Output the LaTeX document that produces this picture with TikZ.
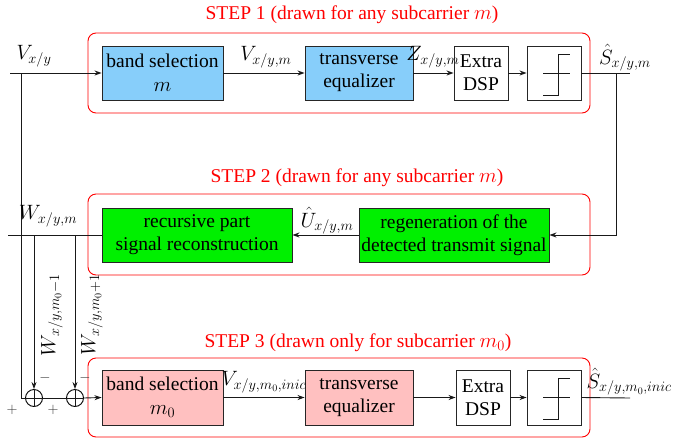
\documentclass[tikz,border=0pt]{standalone}
\usepackage{fontspec}
\setmainfont{Liberation Serif}
\usetikzlibrary{arrows.meta}
\definecolor{bluefill}{HTML}{87CEFA}
\definecolor{greenfill}{HTML}{00F000}
\definecolor{pinkfill}{HTML}{FFC0C0}
\tikzset{
  blk/.style={draw=black!85, line width=0.9pt, align=center, inner sep=0pt},
  redframe/.style={draw=red, line width=0.9pt, rounded corners=8pt},
  title/.style={text=red, inner sep=0pt},
  lab/.style={inner sep=0pt},
  sign/.style={inner sep=0pt, font=\fontsize{14}{16}\selectfont, text=black!80},
  conn/.style={line width=0.9pt, draw=black!90},
  arr/.style={conn, -{Stealth[length=7pt,width=5pt]}},
  adder/.style={draw=black, line width=0.9pt, circle, minimum size=17pt, inner sep=0pt},
}
\begin{document}
\begin{tikzpicture}[x=1pt,y=-1pt,font=\fontsize{19.5}{23}\selectfont]
\useasboundingbox (0,0) rectangle (673,440);
% frames
\draw[redframe] (88,33) rectangle (590,113);
\draw[redframe] (88,194) rectangle (590,275);
\draw[redframe] (88,358) rectangle (590,437);
\node[title] (t1) at (352,15) {STEP 1 (drawn for any subcarrier $m$)};
\node[title] (t2) at (357,178) {STEP 2 (drawn for any subcarrier $m$)};
\node[title] (t3) at (358,343) {STEP 3 (drawn only for subcarrier $m_0$)};
% step 1
\node[blk, fill=bluefill, minimum width=121pt, minimum height=54pt] (b1) at (162.5,73) {band selection\\[1pt] $m$};
\node[blk, fill=bluefill, minimum width=108pt, minimum height=54pt] (q1) at (359,73) {transverse\\ equalizer};
\node[blk, minimum width=54pt, minimum height=54pt] (e1) at (481,73) {Extra\\ DSP};
\node[blk, minimum width=54pt, minimum height=54pt] (d1) at (554,73) {};
% step 2
\node[blk, fill=greenfill, minimum width=190pt, minimum height=54pt] (r2) at (197,235) {recursive part\\ signal reconstruction};
\node[blk, fill=greenfill, minimum width=190pt, minimum height=54pt] (g2) at (454,235) {regeneration of the\\ detected transmit signal};
% step 3
\node[blk, fill=pinkfill, minimum width=121pt, minimum height=55pt] (b3) at (162.5,397.5) {band selection\\[1pt] $m_0$};
\node[blk, fill=pinkfill, minimum width=108pt, minimum height=55pt] (q3) at (359,397.5) {transverse\\ equalizer};
\node[blk, minimum width=54pt, minimum height=55pt] (e3) at (483,397.5) {Extra\\ DSP};
\node[blk, minimum width=54pt, minimum height=55pt] (d3) at (554,397.5) {};
% threshold symbols
\foreach \n in {d1,d3}{
  \draw[conn] ([xshift=-11pt]\n.center) -- ([xshift=16pt]\n.center);
  \draw[conn] ([xshift=-11pt,yshift=-22pt]\n.center) -- ([xshift=4pt,yshift=-22pt]\n.center)
     -- ([xshift=4pt,yshift=19pt]\n.center) -- ([xshift=16pt,yshift=19pt]\n.center);
}
% adders
\node[adder] (a1) at (34,398) {};
\node[adder] (a2) at (75,398) {};
\foreach \n in {a1,a2}{
  \draw[conn] (\n.north) -- (\n.south);
  \draw[conn] (\n.west) -- (\n.east);
}
% coordinates
\coordinate (in1) at (10,73);
\coordinate (tap) at (21,73);
\coordinate (tapb) at (21,398);
\coordinate (o1) at (630,73);
\coordinate (fb) at (616,73);
\coordinate (w0) at (8,235);
\coordinate (w1) at (34,235);
\coordinate (w2) at (75,235);
\coordinate (o3) at (630,398);
% step 1 connectors
\draw[arr] (in1) -- (b1.west);
\draw[arr] (b1) -- (q1);
\draw[arr] (q1) -- (e1);
\draw[arr] (e1) -- (d1);
\draw[conn] (d1.east) -- (o1);
\draw[arr] (fb) |- (g2.east);
% step 2
\draw[arr] (g2) -- (r2);
\draw[conn] (r2.west) -- (w0);
\draw[arr] (w1) -- (a1.north);
\draw[arr] (w2) -- (a2.north);
% step 3
\draw[conn] (tap) -- (tapb) -- (a1.west);
\draw[conn] (a1.east) -- (a2.west);
\draw[arr] (a2.east) -- (b3.west);
\draw[arr] (b3) -- (q3);
\draw[arr] (q3) -- (e3);
\draw[arr] (e3) -- (d3);
\draw[conn] (d3.east) -- (o3);
% labels
\node[lab] (l1) at (34,56) {$V_{x/y}$};
\node[lab] (l2) at (266,57) {$V_{x/y,m}$};
\node[lab] (l3) at (433,57) {$Z_{x/y,m}$};
\node[lab] (l4) at (625,58) {$\hat S_{x/y,m}$};
\node[lab] (l5) at (48,216) {$W_{x/y,m}$};
\node[lab] (l6) at (327,221) {$\hat U_{x/y,m}$};
\node[lab] (l7) at (264,382) {$V_{x/y,m_0,inic}$};
\node[lab, anchor=east] (l8) at (672,382) {$\hat S_{x/y,m_0,inic}$};
\node[lab, rotate=90] (l9) at (52,315) {$W_{x/y,m_0-1}$};
\node[lab, rotate=90] (l10) at (92,315) {$W_{x/y,m_0+1}$};
\node[sign] (m1) at (45,378) {$-$};
\node[sign] (m2) at (85,378) {$-$};
\node[sign] (p1) at (12,410) {$+$};
\node[sign] (p2) at (53,410) {$+$};
\end{tikzpicture}
\end{document}
